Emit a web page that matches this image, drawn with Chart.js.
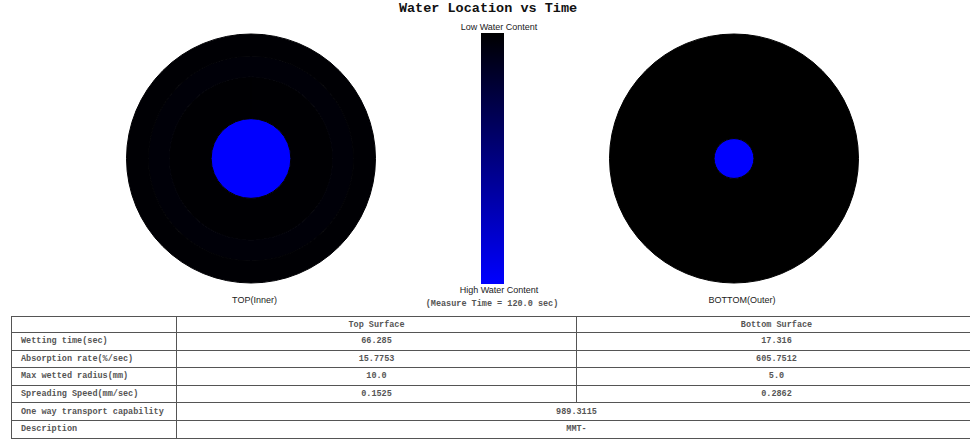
<!DOCTYPE html>
<html>
<head>
<meta charset="utf-8">
<title>Water Location vs Time</title>
<script src="https://cdn.jsdelivr.net/npm/chart.js@4/dist/chart.umd.min.js"></script>
<style>
  html, body { margin: 0; padding: 0; background: #fff; overflow: hidden; }
  body { position: relative; width: 970px; height: 441px; }
  .abs { position: absolute; }
  .mono { font-family: "Courier New", "Liberation Mono", monospace; }
  .sans { font-family: Arial, "Liberation Sans", sans-serif; color: #222; font-size: 9px; white-space: nowrap; }
  #title { left: 0; width: 976px; top: 1px; text-align: center; font-size: 13.5px; font-weight: bold; color: #111; line-height: 16px; }
  #topWrap { left: 126px; top: 33px; width: 250px; height: 251px; }
  #bottomWrap { left: 609px; top: 33px; width: 250px; height: 251px; }
  #barWrap { left: 481px; top: 33px; width: 23px; height: 251px; }
  table { position: absolute; left: 11px; top: 316px; border-collapse: collapse; table-layout: fixed; width: 965px; }
  td { border: 1px solid #555; font-family: "Courier New", "Liberation Mono", monospace; font-size: 8.5px; font-weight: bold; color: #555; padding: 0; text-align: center; white-space: nowrap; }
  td.lbl { text-align: left; padding-left: 9px; }
  tr.head td { height: 15px; }
  tr.row td { height: 16.6px; }
  #measure { font-size: 8.5px; font-weight: bold; color: #555; }
</style>
</head>
<body>
<div id="title" class="abs mono">Water Location vs Time</div>

<div id="topWrap" class="abs"><canvas id="topChart"></canvas></div>
<div id="barWrap" class="abs"><canvas id="barChart"></canvas></div>
<div id="bottomWrap" class="abs"><canvas id="bottomChart"></canvas></div>

<div class="abs sans" style="left:216px; top:295px; width:77px; text-align:center;">TOP(Inner)</div>
<div class="abs sans" style="left:702px; top:295px; width:80px; text-align:center;">BOTTOM(Outer)</div>
<div class="abs sans" style="left:449px; top:22px; width:100px; text-align:center;">Low Water Content</div>
<div class="abs sans" style="left:449px; top:285px; width:100px; text-align:center;">High Water Content</div>
<div id="measure" class="abs mono" style="left:412px; top:299px; width:160px; text-align:center;"></div>

<table id="summary"></table>

<script>
// plate size and ring layout (mm), listed from the outer edge inwards
const topRingEdges = [31.25, 25.75, 20.5];
const topRingLevels = [0.014, 0.03, 0.01];
const bottomRingEdges = [31.25];
const bottomRingLevels = [0];
const wettedLevel = 1;

// colour bar range: 0 = low water content, 1 = high
const colorbarRange = [0, 1];
const measureTime = 120.0;

// summary table
const rowLabels = ['Wetting time(sec)', 'Absorption rate(%/sec)', 'Max wetted radius(mm)', 'Spreading Speed(mm/sec)'];
const topValues = ['66.285', '15.7753', 10.0, '0.1525'];
const bottomValues = ['17.316', '605.7512', 5.0, '0.2862'];
const oneWayTransport = '989.3115';
const description = 'MMT-';

function levelColor(v) {
  return `rgb(0, 0, ${Math.round(255 * v)})`;
}

// one doughnut dataset per ring, thickness given by weight (mm)
function ringDatasets(edges, levels, wetRadius) {
  const radii = edges.concat([wetRadius]);
  const lv = levels.concat([wettedLevel]);
  return radii.map((r, i) => {
    const inner = i + 1 < radii.length ? radii[i + 1] : 0;
    const color = levelColor(lv[i]);
    return {
      data: [1],
      weight: r - inner,
      backgroundColor: color,
      borderColor: color,
      borderWidth: 1,
      hoverOffset: 0,
      offset: 0,
    };
  });
}

const discOptions = {
  responsive: true,
  maintainAspectRatio: false,
  animation: false,
  cutout: 0,
  events: [],
  layout: { padding: 0 },
  plugins: { legend: { display: false }, tooltip: { enabled: false } },
};

new Chart(document.getElementById('topChart'), {
  type: 'doughnut',
  data: { labels: ['ring'], datasets: ringDatasets(topRingEdges, topRingLevels, topValues[2]) },
  options: discOptions,
});

new Chart(document.getElementById('bottomChart'), {
  type: 'doughnut',
  data: { labels: ['ring'], datasets: ringDatasets(bottomRingEdges, bottomRingLevels, bottomValues[2]) },
  options: discOptions,
});

new Chart(document.getElementById('barChart'), {
  type: 'bar',
  data: {
    labels: ['level'],
    datasets: [{
      data: [colorbarRange],
      borderWidth: 0,
      borderSkipped: false,
      barPercentage: 1,
      categoryPercentage: 1,
      backgroundColor: (ctx) => {
        const { chart } = ctx;
        const yScale = chart.scales.y;
        if (!chart.chartArea || !yScale) return levelColor(0.5);
        const g = chart.ctx.createLinearGradient(0, yScale.getPixelForValue(colorbarRange[0]), 0, yScale.getPixelForValue(colorbarRange[1]));
        g.addColorStop(0, levelColor(colorbarRange[0]));
        g.addColorStop(1, levelColor(colorbarRange[1]));
        return g;
      },
    }],
  },
  options: {
    responsive: true,
    maintainAspectRatio: false,
    animation: false,
    events: [],
    layout: { padding: 0 },
    scales: {
      x: { display: false },
      y: { display: false, reverse: true, min: colorbarRange[0], max: colorbarRange[1] },
    },
    plugins: { legend: { display: false }, tooltip: { enabled: false } },
  },
});

document.getElementById('measure').textContent = `(Measure Time = ${measureTime.toFixed(1)} sec)`;

function fmt(v) {
  return typeof v === 'number' ? v.toFixed(1) : v;
}

const table = document.getElementById('summary');
let html = '<colgroup><col style="width:165px"><col style="width:400px"><col style="width:400px"></colgroup>';
html += '<tr class="head"><td></td><td>Top Surface</td><td>Bottom Surface</td></tr>';
rowLabels.forEach((label, i) => {
  html += `<tr class="row"><td class="lbl">${label}</td><td>${fmt(topValues[i])}</td><td>${fmt(bottomValues[i])}</td></tr>`;
});
html += `<tr class="row"><td class="lbl">One way transport capability</td><td colspan="2">${oneWayTransport}</td></tr>`;
html += `<tr class="row"><td class="lbl">Description</td><td colspan="2">${description}</td></tr>`;
table.innerHTML = html;
</script>
</body>
</html>
